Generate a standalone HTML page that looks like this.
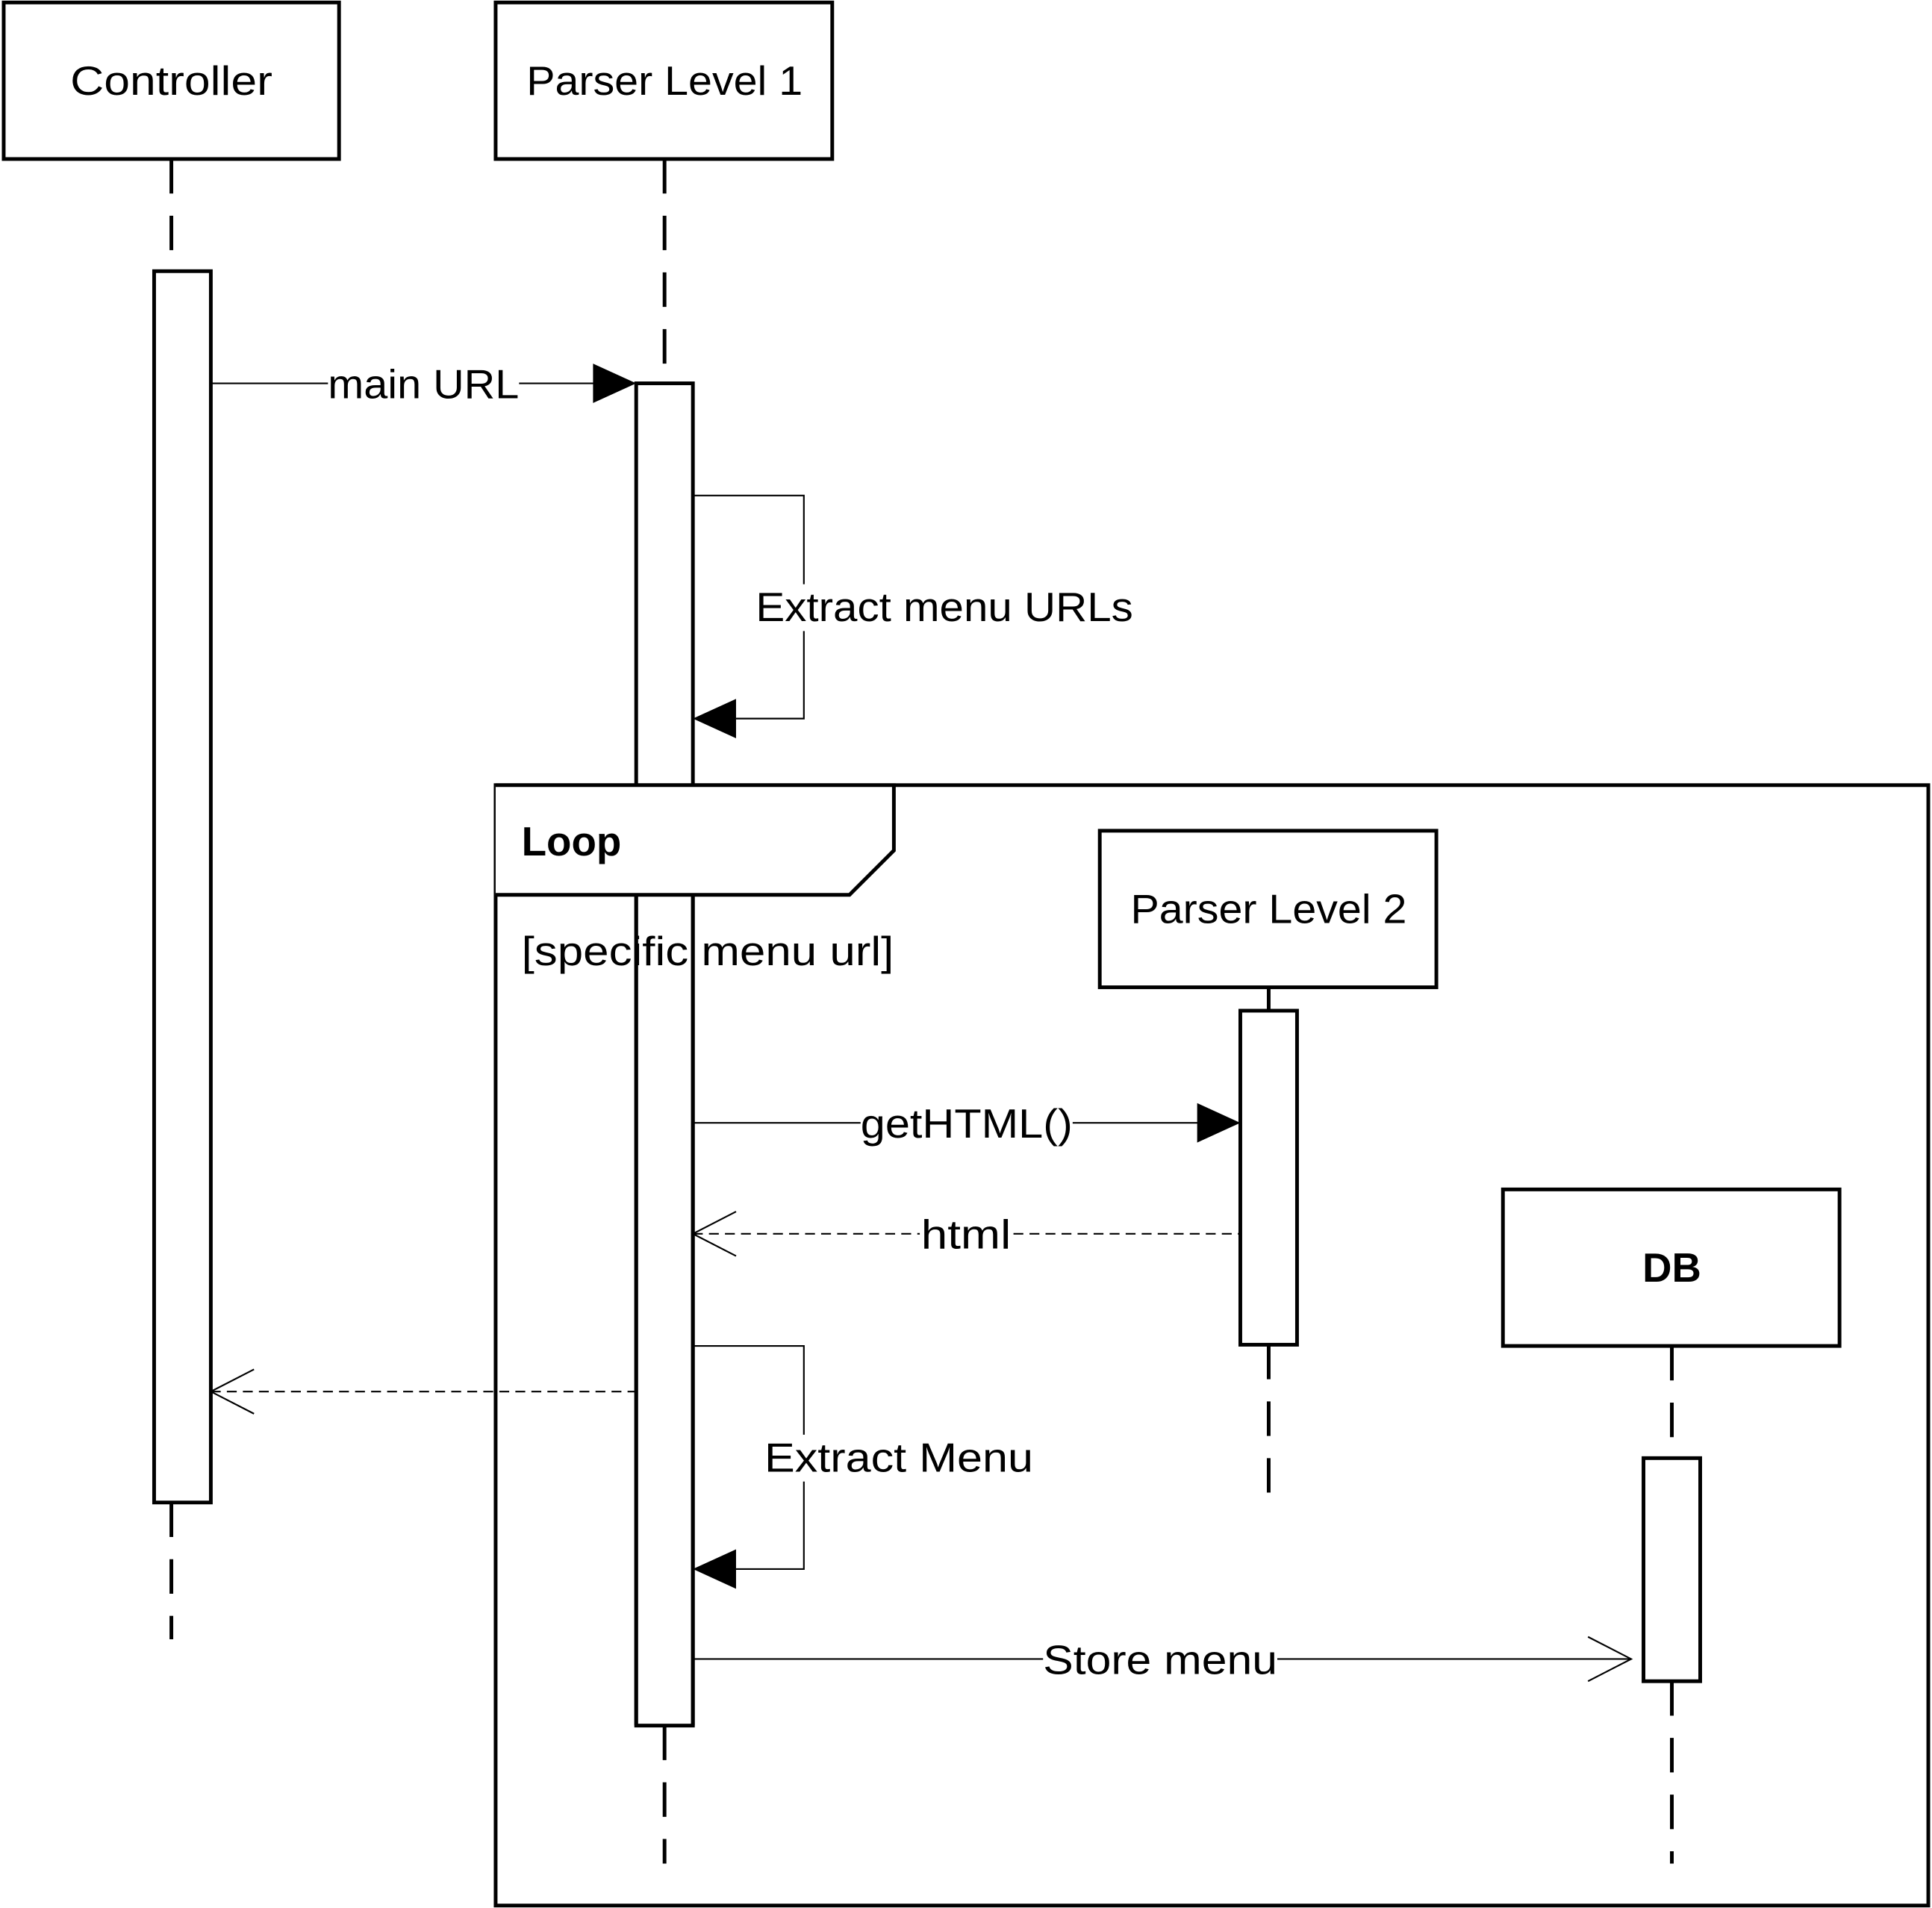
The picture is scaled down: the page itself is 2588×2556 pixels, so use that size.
<!DOCTYPE html>
<html><head><meta charset="utf-8"><style>
html,body{margin:0;padding:0;background:#fff;}
svg{display:block;}
text{font-family:"Liberation Sans",sans-serif;fill:#000;}
</style></head><body>
<svg width="2588" height="2556" viewBox="0 0 1567 1548" preserveAspectRatio="none" xmlns="http://www.w3.org/2000/svg">
<rect width="1567" height="1548" fill="#fff"/>
<g fill="none" stroke="#000" stroke-width="3">
<!-- lifelines dashed -->
<g stroke-dasharray="28,18">
<line x1="139" y1="129" x2="139" y2="220"/>
<line x1="139" y1="1219" x2="139" y2="1330"/>
<line x1="539" y1="129" x2="539" y2="311"/>
<line x1="539" y1="1400" x2="539" y2="1512"/>
<line x1="1029" y1="1091" x2="1029" y2="1222"/>
<line x1="1356" y1="1092" x2="1356" y2="1183"/>
<line x1="1356" y1="1364" x2="1356" y2="1512"/>
</g>
<line x1="1029" y1="801" x2="1029" y2="820"/>
<!-- boxes -->
<rect x="3" y="2" width="272" height="127" fill="#fff"/>
<rect x="402" y="2" width="273" height="127" fill="#fff"/>
<rect x="125" y="220" width="46" height="999" fill="#fff"/>
<rect x="516" y="311" width="46" height="1089" fill="#fff"/>
<!-- loop frame -->
<rect x="402" y="637" width="1162" height="909"/>
<path d="M402 637 H725 V690 L689 726 H402" fill="#fff"/>
<line x1="516" y1="726" x2="516" y2="1400"/>
<line x1="562" y1="726" x2="562" y2="1400"/>
<rect x="892" y="674" width="273" height="127" fill="#fff"/>
<rect x="1006" y="820" width="46" height="271" fill="#fff"/>
<rect x="1219" y="965" width="273" height="127" fill="#fff"/>
<rect x="1333" y="1183" width="46" height="181" fill="#fff"/>
</g>
<!-- messages -->
<g fill="none" stroke="#000" stroke-width="1.3">
<line x1="171" y1="311" x2="482" y2="311"/>
<polyline points="562,402 652,402 652,583 597,583"/>
<line x1="562" y1="911" x2="972" y2="911"/>
<line x1="562" y1="1001" x2="1006" y2="1001" stroke-dasharray="8,5"/>
<polyline points="597,983 562,1001 597,1019"/>
<line x1="171" y1="1129" x2="516" y2="1129" stroke-dasharray="8,5"/>
<polyline points="206,1111 171,1129 206,1147"/>
<polyline points="562,1092 652,1092 652,1273 597,1273"/>
<line x1="562" y1="1346" x2="1323" y2="1346"/>
<polyline points="1288,1328 1323,1346 1288,1364"/>
</g>
<g fill="#000">
<polygon points="481,295 516,311 481,327"/>
<polygon points="597,567 562,583 597,599"/>
<polygon points="971,895 1006,911 971,927"/>
<polygon points="597,1257 562,1273 597,1289"/>
</g>
<!-- label backgrounds -->
<g fill="#fff">
<rect x="266" y="294" width="155" height="34"/>
<rect x="610" y="474" width="312" height="38"/>
<rect x="698" y="894" width="172" height="36"/>
<rect x="746" y="984" width="75" height="36"/>
<rect x="617" y="1164" width="224" height="38"/>
<rect x="846" y="1328" width="190" height="36"/>
</g>
<g font-size="33">
<text x="139" y="77" text-anchor="middle" textLength="164" lengthAdjust="spacingAndGlyphs">Controller</text>
<text x="539" y="77" text-anchor="middle" textLength="224" lengthAdjust="spacingAndGlyphs">Parser Level 1</text>
<text x="1029" y="749" text-anchor="middle" textLength="224" lengthAdjust="spacingAndGlyphs">Parser Level 2</text>
<text x="1356" y="1040" text-anchor="middle" font-weight="bold">DB</text>
<text x="423" y="694" font-weight="bold" textLength="81" lengthAdjust="spacingAndGlyphs">Loop</text>
<text x="423" y="783" textLength="302" lengthAdjust="spacingAndGlyphs">[specific menu url]</text>
<text x="266" y="323" textLength="155" lengthAdjust="spacingAndGlyphs">main URL</text>
<text x="613" y="504" textLength="306" lengthAdjust="spacingAndGlyphs">Extract menu URLs</text>
<text x="698" y="923" textLength="172" lengthAdjust="spacingAndGlyphs">getHTML()</text>
<text x="747" y="1013" textLength="73" lengthAdjust="spacingAndGlyphs">html</text>
<text x="620" y="1194" textLength="218" lengthAdjust="spacingAndGlyphs">Extract Menu</text>
<text x="846" y="1358" textLength="190" lengthAdjust="spacingAndGlyphs">Store menu</text>
</g>
</svg>
</body></html>
